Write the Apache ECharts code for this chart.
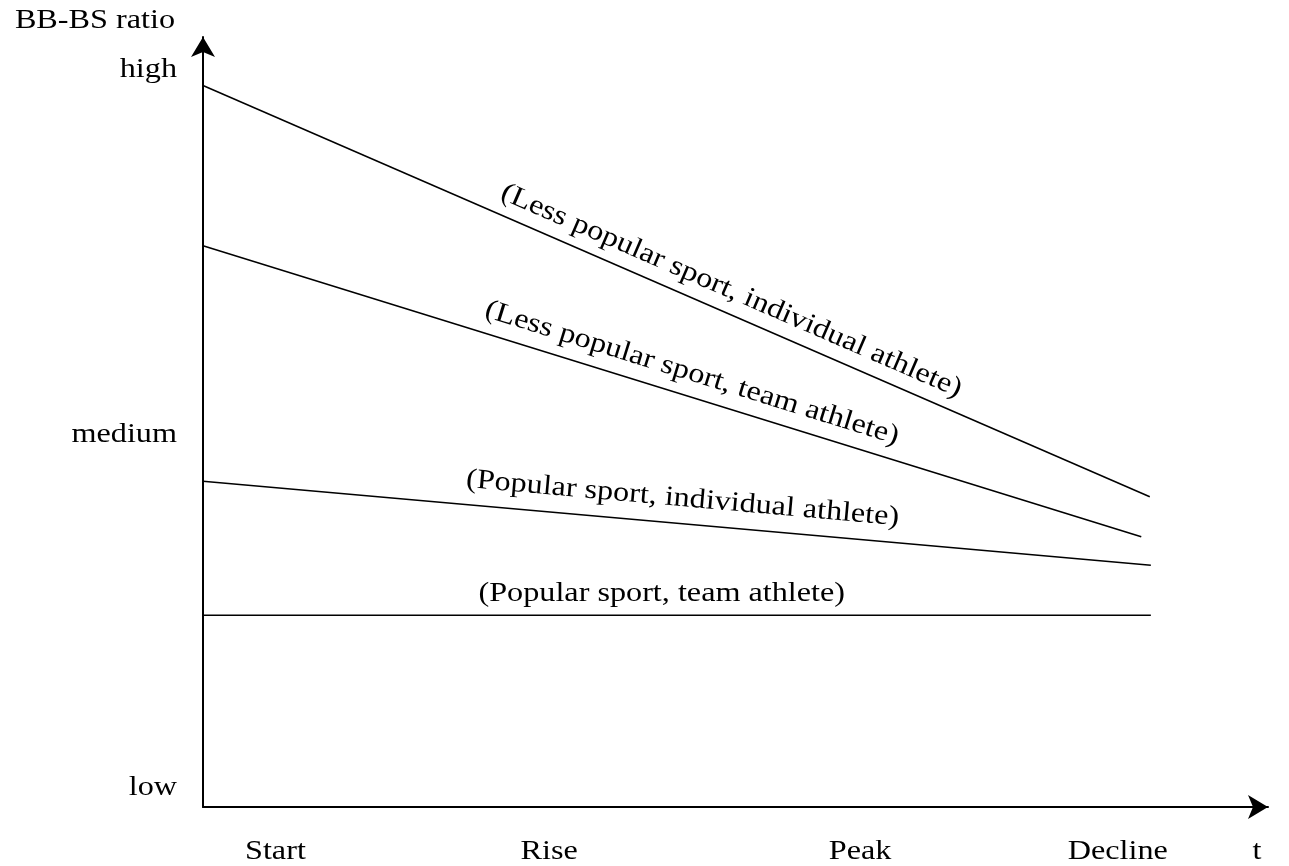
<!DOCTYPE html>
<html><head><meta charset="utf-8">
<script src="https://cdn.jsdelivr.net/npm/echarts@6/dist/echarts.min.js"></script>
<style>html,body{margin:0;padding:0;background:#fff}#c{width:1289px;height:866px}</style>
</head><body><div id="c"></div>
<script>
// ---- data ----
const seriesNames = ['(Less popular sport, individual athlete)', '(Less popular sport, team athlete)', '(Popular sport, individual athlete)', '(Popular sport, team athlete)'];
const lineStartX = [0, 0, 0, 0];
const lineEndX = [88.9, 88.1, 89.0, 89.0];
const lineStartY = [93.7, 72.9, 42.3, 24.9];
const lineEndY = [40.3, 35.1, 31.4, 24.9];
const xTickLabels = ['Start', 'Rise', 'Peak', 'Decline'];
const xTickValues = [6.8, 32.5, 61.7, 85.9];
const yTickLabels = ['low', 'medium', 'high'];
const yTickValues = [2.5, 48.3, 95.7];
const xAxisName = 't';
const yAxisName = 'BB-BS ratio';

// ---- style ----
const FONT = '"Liberation Serif", "Times New Roman", serif';
const FS = 28;
const SX = 1.15;
const labelFrac = [0.558, 0.521, 0.506, 0.484];
const labelLift = [24, 24, 25, 22];

const chart = echarts.init(document.getElementById('c'), null, {renderer: 'canvas'});
const axisCommon = {
  type: 'value', min: 0, max: 100,
  axisLine: {show: true, lineStyle: {color: '#000', width: 2}, symbol: ['none', 'arrow'], symbolSize: [18, 20]},
  axisTick: {show: false}, axisLabel: {show: false}, splitLine: {show: false}
};
const option = {
  animation: false,
  backgroundColor: '#fff',
  grid: {left: 203, right: 21, top: 37, bottom: 59},
  xAxis: Object.assign({}, axisCommon),
  yAxis: Object.assign({}, axisCommon),
  series: seriesNames.map((n, i) => ({
    name: n, type: 'line', symbol: 'none', silent: true,
    lineStyle: {color: '#000', width: 1.5},
    data: [[lineStartX[i], lineStartY[i]], [lineEndX[i], lineEndY[i]]]
  }))
};
chart.setOption(option);

function txt(text, x, y, align, rot) {
  return {
    type: 'text', x: x, y: y, rotation: rot || 0, scaleX: SX, silent: true,
    style: {text: text, fill: '#000', fontSize: FS, fontFamily: FONT,
      textAlign: align, textVerticalAlign: 'middle', align: align, verticalAlign: 'middle'}
  };
}
const px = p => chart.convertToPixel({gridIndex: 0}, p);
const els = [];
seriesNames.forEach((n, i) => {
  const a = px([lineStartX[i], lineStartY[i]]);
  const b = px([lineEndX[i], lineEndY[i]]);
  const f = labelFrac[i];
  const dx = lineStartX[i] + f * (lineEndX[i] - lineStartX[i]);
  const dy = lineStartY[i] + f * (lineEndY[i] - lineStartY[i]);
  const p = px([dx, dy]);
  const ang = Math.atan2(b[1] - a[1], b[0] - a[0]);
  els.push(txt(n, p[0], p[1] - labelLift[i], 'center', -ang));
});
xTickLabels.forEach((t, i) => {
  const p = px([xTickValues[i], 0]);
  els.push(txt(t, p[0], p[1] + 45, 'center'));
});
yTickLabels.forEach((t, i) => {
  const p = px([0, yTickValues[i]]);
  els.push(txt(t, p[0] - 26, p[1], 'right'));
});
const xe = px([100, 0]);
els.push(txt(xAxisName, xe[0] - 11, xe[1] + 45, 'center'));
const ye = px([0, 100]);
els.push(txt(yAxisName, ye[0] - 28, ye[1] - 16, 'right'));
chart.setOption({graphic: {elements: els}});
</script></body></html>
